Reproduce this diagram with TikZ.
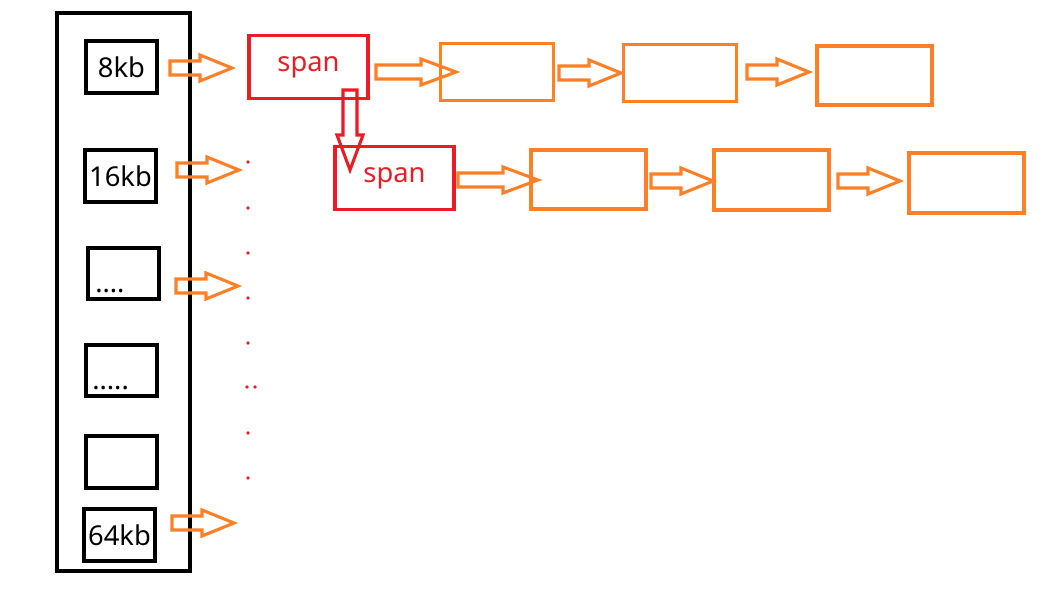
\documentclass[tikz,border=0pt]{standalone}
\usepackage{fontspec}
\setmainfont{Noto Sans}
\begin{document}
\begin{tikzpicture}[x=0.75pt,y=-0.75pt,
  lbl/.style={font=\fontsize{20.5}{20}\selectfont},
  pics/harrow/.style={code={\draw[line width=2.3pt,line join=miter,#1] (0,-7)--(30,-7)--(30,-13)--(62,0)--(30,13)--(30,7)--(0,7)--cycle;}},
  pics/larrow/.style={code={\draw[line width=2.3pt,line join=miter,#1] (0,-7)--(45,-7)--(45,-13)--(80,0)--(45,13)--(45,7)--(0,7)--cycle;}},
]
\definecolor{orng}{RGB}{255,127,39}
\definecolor{rdd}{RGB}{237,28,36}
\tikzset{blk/.style={draw=black,line width=3pt},org/.style={draw=orng,line width=2.6pt},rd/.style={draw=rdd,line width=2.6pt},oc/.style={draw=orng},rc/.style={draw=rdd}}
\useasboundingbox (0,0) rectangle (1048,600);
\draw[blk] (57,13) rectangle (190,571);
\node[blk,lbl,minimum width=53pt,minimum height=39pt,inner sep=0] (b1) at (121.5,67) {8kb};
\node[blk,lbl,minimum width=53pt,minimum height=39pt,inner sep=0] (b2) at (120.5,176) {16kb};
\node[blk,minimum width=53pt,minimum height=38pt,inner sep=0] (b3) at (123.5,273.5) {};
\node[lbl,anchor=south west,inner sep=0] at (95,293) {....};
\node[blk,minimum width=53pt,minimum height=38pt,inner sep=0] (b4) at (121.5,370.5) {};
\node[lbl,anchor=south west,inner sep=0] at (92,390) {.....};
\node[blk,minimum width=53pt,minimum height=39pt,inner sep=0] (b5) at (121.5,462) {};
\node[blk,lbl,minimum width=53pt,minimum height=39pt,inner sep=0] (b6) at (119.5,535) {64kb};
\pic at (170,68) {harrow=oc};
\pic at (177,170) {harrow=oc};
\pic at (176,286) {harrow=oc};
\pic at (172,523) {harrow=oc};
\foreach \yy in {162,208,253,298,343,433,478} \fill[rdd] (248,\yy) circle (1.8);
\fill[rdd] (247,387) circle (1.8); \fill[rdd] (255,387) circle (1.8);
\node[rd,minimum width=89pt,minimum height=47pt,inner sep=0,text=rdd,lbl] (s1) at (308.5,67) {span};
\node[rd,minimum width=89pt,minimum height=47pt,inner sep=0,text=rdd,lbl] (s2) at (394.5,178) {span};
\pic[rotate=-90] at (350,90) {larrow=rc};
\pic at (376,72) {larrow=oc};
\node[org,minimum width=85pt,minimum height=43pt,inner sep=0] (r1) at (497,72) {};
\pic at (559,73) {harrow=oc};
\node[org,minimum width=85pt,minimum height=43pt,inner sep=0] (r2) at (680,73) {};
\pic at (747,72) {harrow=oc};
\node[org,minimum width=86pt,minimum height=44pt,inner sep=0] (r3) at (874.5,75.5) {};
\pic at (458,180) {larrow=oc};
\node[org,minimum width=86pt,minimum height=44pt,inner sep=0] (q1) at (588.5,179.5) {};
\pic at (651,181) {harrow=oc};
\node[org,minimum width=86pt,minimum height=45pt,inner sep=0] (q2) at (771.5,180) {};
\pic at (838,181) {harrow=oc};
\node[org,minimum width=86pt,minimum height=45pt,inner sep=0] (q3) at (966.5,183) {};
\end{tikzpicture}
\end{document}
